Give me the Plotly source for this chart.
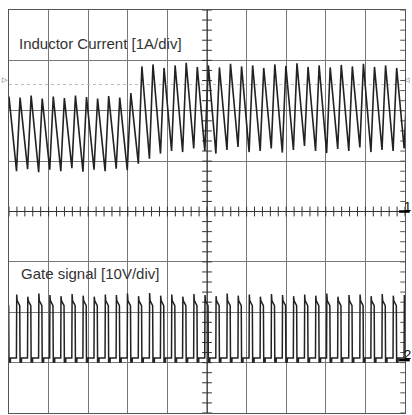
import plotly.graph_objects as go

# Switching timing (horizontal divisions)
first_edge_div = -0.09        # gate rising edge of the first (partial) cycle
switch_period_div = 0.2797    # one switching period in divisions
duty = 0.32                   # fraction of the period the gate is high

# Inductor current per switching cycle [A] (valley at gate turn-on, peak at turn-off)
current_valley = [0.85, 0.80, 0.84, 0.78, 0.83, 0.80, 0.86, 0.79, 0.83, 0.80, 0.85, 0.82,
                  0.95, 1.05, 1.15, 1.20, 1.18, 1.25, 1.20, 1.15, 1.22, 1.28, 1.18, 1.20,
                  1.25, 1.17, 1.22, 1.30, 1.20, 1.16, 1.24, 1.20, 1.27, 1.18, 1.22, 1.20,
                  1.25]
current_peak = [2.28, 2.26, 2.30, 2.24, 2.28, 2.25, 2.30, 2.27, 2.24, 2.29, 2.26, 2.35,
                2.88, 2.92, 2.85, 2.90, 2.95, 2.87, 2.90, 2.86, 2.93, 2.88, 2.90, 2.85,
                2.92, 2.89, 2.94, 2.87, 2.90, 2.86, 2.91, 2.88, 2.93, 2.87, 2.90, 2.85,
                2.90]

# Gate drive overshoot at turn-on per cycle [V]
gate_peak = [12.8, 13.0, 12.6, 13.2, 12.9, 12.7, 13.1, 12.8, 12.6, 13.0, 12.9, 13.2,
             12.7, 13.3, 12.8, 13.0, 12.6, 13.1, 12.9, 12.7, 13.2, 12.8, 13.0, 12.6,
             13.1, 12.9, 12.7, 13.0, 12.8, 13.2, 12.6, 12.9, 13.0, 12.7, 13.1, 12.8,
             12.9]
gate_plateau = 11.8      # top of the pulse after the overshoot [V]
gate_droop = 10.8        # level just before turn-off [V]
gate_undershoot = -0.4   # dip after turn-off [V]
gate_bump = 0.4          # small step after the dip [V]

# Channel settings
ch1_scale = 1.0     # A/div
ch2_scale = 10.0    # V/div
ch2_ground_div = -2.95
trigger_level = 2.52  # A

LINE = "#222"

# Build the inductor current trace (linear ramps between valley and peak)
t_cur, i_cur = [], []
for k in range(len(current_valley)):
    t0 = first_edge_div + k * switch_period_div
    t_cur += [t0, t0 + duty * switch_period_div]
    i_cur += [current_valley[k], current_peak[k]]

# Build the gate trace
t_g, v_g = [], []
pw = duty * switch_period_div
for k in range(len(gate_peak)):
    t0 = first_edge_div + k * switch_period_div
    t_g += [t0, t0 + 0.005, t0 + 0.016, t0 + pw - 0.008, t0 + pw,
            t0 + pw + 0.035, t0 + pw + 0.037, t0 + switch_period_div - 0.002]
    v_g += [gate_bump, gate_peak[k], gate_plateau, gate_droop, gate_undershoot,
            gate_undershoot, gate_bump, gate_bump]

fig = go.Figure()

# Trigger level dotted line
fig.add_trace(go.Scatter(x=[0, 10], y=[trigger_level, trigger_level], mode="lines",
                         line=dict(color="#bbbbbb", width=1, dash="dot"),
                         hoverinfo="skip", showlegend=False))

# Minor ticks on the centre axes and right border
tick_x = [i * 0.2 for i in range(51)]
tick_y = [-4 + i * 0.2 for i in range(41)]
fig.add_trace(go.Scatter(x=tick_x, y=[0] * len(tick_x), mode="markers",
                         marker=dict(symbol="line-ns-open", size=7, color="#333",
                                     line=dict(color="#333", width=1)),
                         hoverinfo="skip", showlegend=False))
fig.add_trace(go.Scatter(x=[5] * len(tick_y), y=tick_y, mode="markers",
                         marker=dict(symbol="line-ew-open", size=7, color="#333",
                                     line=dict(color="#333", width=1)),
                         hoverinfo="skip", showlegend=False))
fig.add_trace(go.Scatter(x=[9.95] * len(tick_y), y=tick_y, mode="markers",
                         marker=dict(symbol="line-ew-open", size=4, color="#555",
                                     line=dict(color="#555", width=1)),
                         hoverinfo="skip", showlegend=False))

# Centre axes
fig.add_shape(type="line", x0=0, x1=10, y0=0, y1=0, line=dict(color="#333", width=1))
fig.add_shape(type="line", x0=5, x1=5, y0=-4, y1=4, line=dict(color="#333", width=1))

# Channel 1: inductor current
fig.add_trace(go.Scatter(x=t_cur, y=[v / ch1_scale for v in i_cur], mode="lines",
                         line=dict(color=LINE, width=1.6),
                         hoverinfo="skip", showlegend=False))

# Channel 2: gate signal
fig.add_trace(go.Scatter(x=t_g, y=[ch2_ground_div + v / ch2_scale for v in v_g],
                         mode="lines", line=dict(color=LINE, width=1.5),
                         hoverinfo="skip", showlegend=False))

FONT = "Liberation Sans, Arial"

# Trigger level markers at both edges
for xp, sym, anchor, shift in ((0.0, "▷", "right", 0), (1.0, "◁", "left", -2)):
    fig.add_annotation(x=xp, y=2.61, xref="paper", yref="y", text=sym, showarrow=False,
                       xanchor=anchor, yanchor="middle", xshift=shift, borderpad=0,
                       font=dict(family="DejaVu Sans", size=7, color="#444"))

# Channel ground markers
for gnd, label in ((0, "1"), (ch2_ground_div, "2")):
    fig.add_shape(type="line", x0=0.985, x1=1.012, y0=gnd, y1=gnd, xref="paper",
                  yref="y", line=dict(color="#000", width=2.5))
    fig.add_annotation(x=1.0, y=gnd, xref="paper", yref="y", text=label,
                       showarrow=False, xanchor="left", yanchor="bottom",
                       xshift=-2, yshift=-3, borderpad=0,
                       font=dict(family=FONT, size=13, color="#000"))

# Channel labels
fig.add_annotation(x=0.2, y=3.34, xref="x", yref="y", text="Inductor Current [1A/div]",
                   showarrow=False, xanchor="left", yanchor="middle",
                   font=dict(family=FONT, size=15, color="#333"))
fig.add_annotation(x=0.26, y=-1.24, xref="x", yref="y", text="Gate signal [10V/div]",
                   showarrow=False, xanchor="left", yanchor="middle",
                   font=dict(family=FONT, size=15, color="#333"))

fig.update_layout(
    width=412, height=415,
    margin=dict(l=9, r=7, t=10, b=2),
    paper_bgcolor="white", plot_bgcolor="white",
    showlegend=False,
    xaxis=dict(range=[0, 10], dtick=1, tick0=0, showgrid=True, gridcolor="#777",
               gridwidth=1, showticklabels=False, ticks="", zeroline=False,
               showline=True, mirror=True, linecolor="#555", linewidth=1),
    yaxis=dict(range=[-4, 4], dtick=1, tick0=0, showgrid=True, gridcolor="#777",
               gridwidth=1, showticklabels=False, ticks="", zeroline=False,
               showline=True, mirror=True, linecolor="#555", linewidth=1),
)

fig.write_html("out.html")
